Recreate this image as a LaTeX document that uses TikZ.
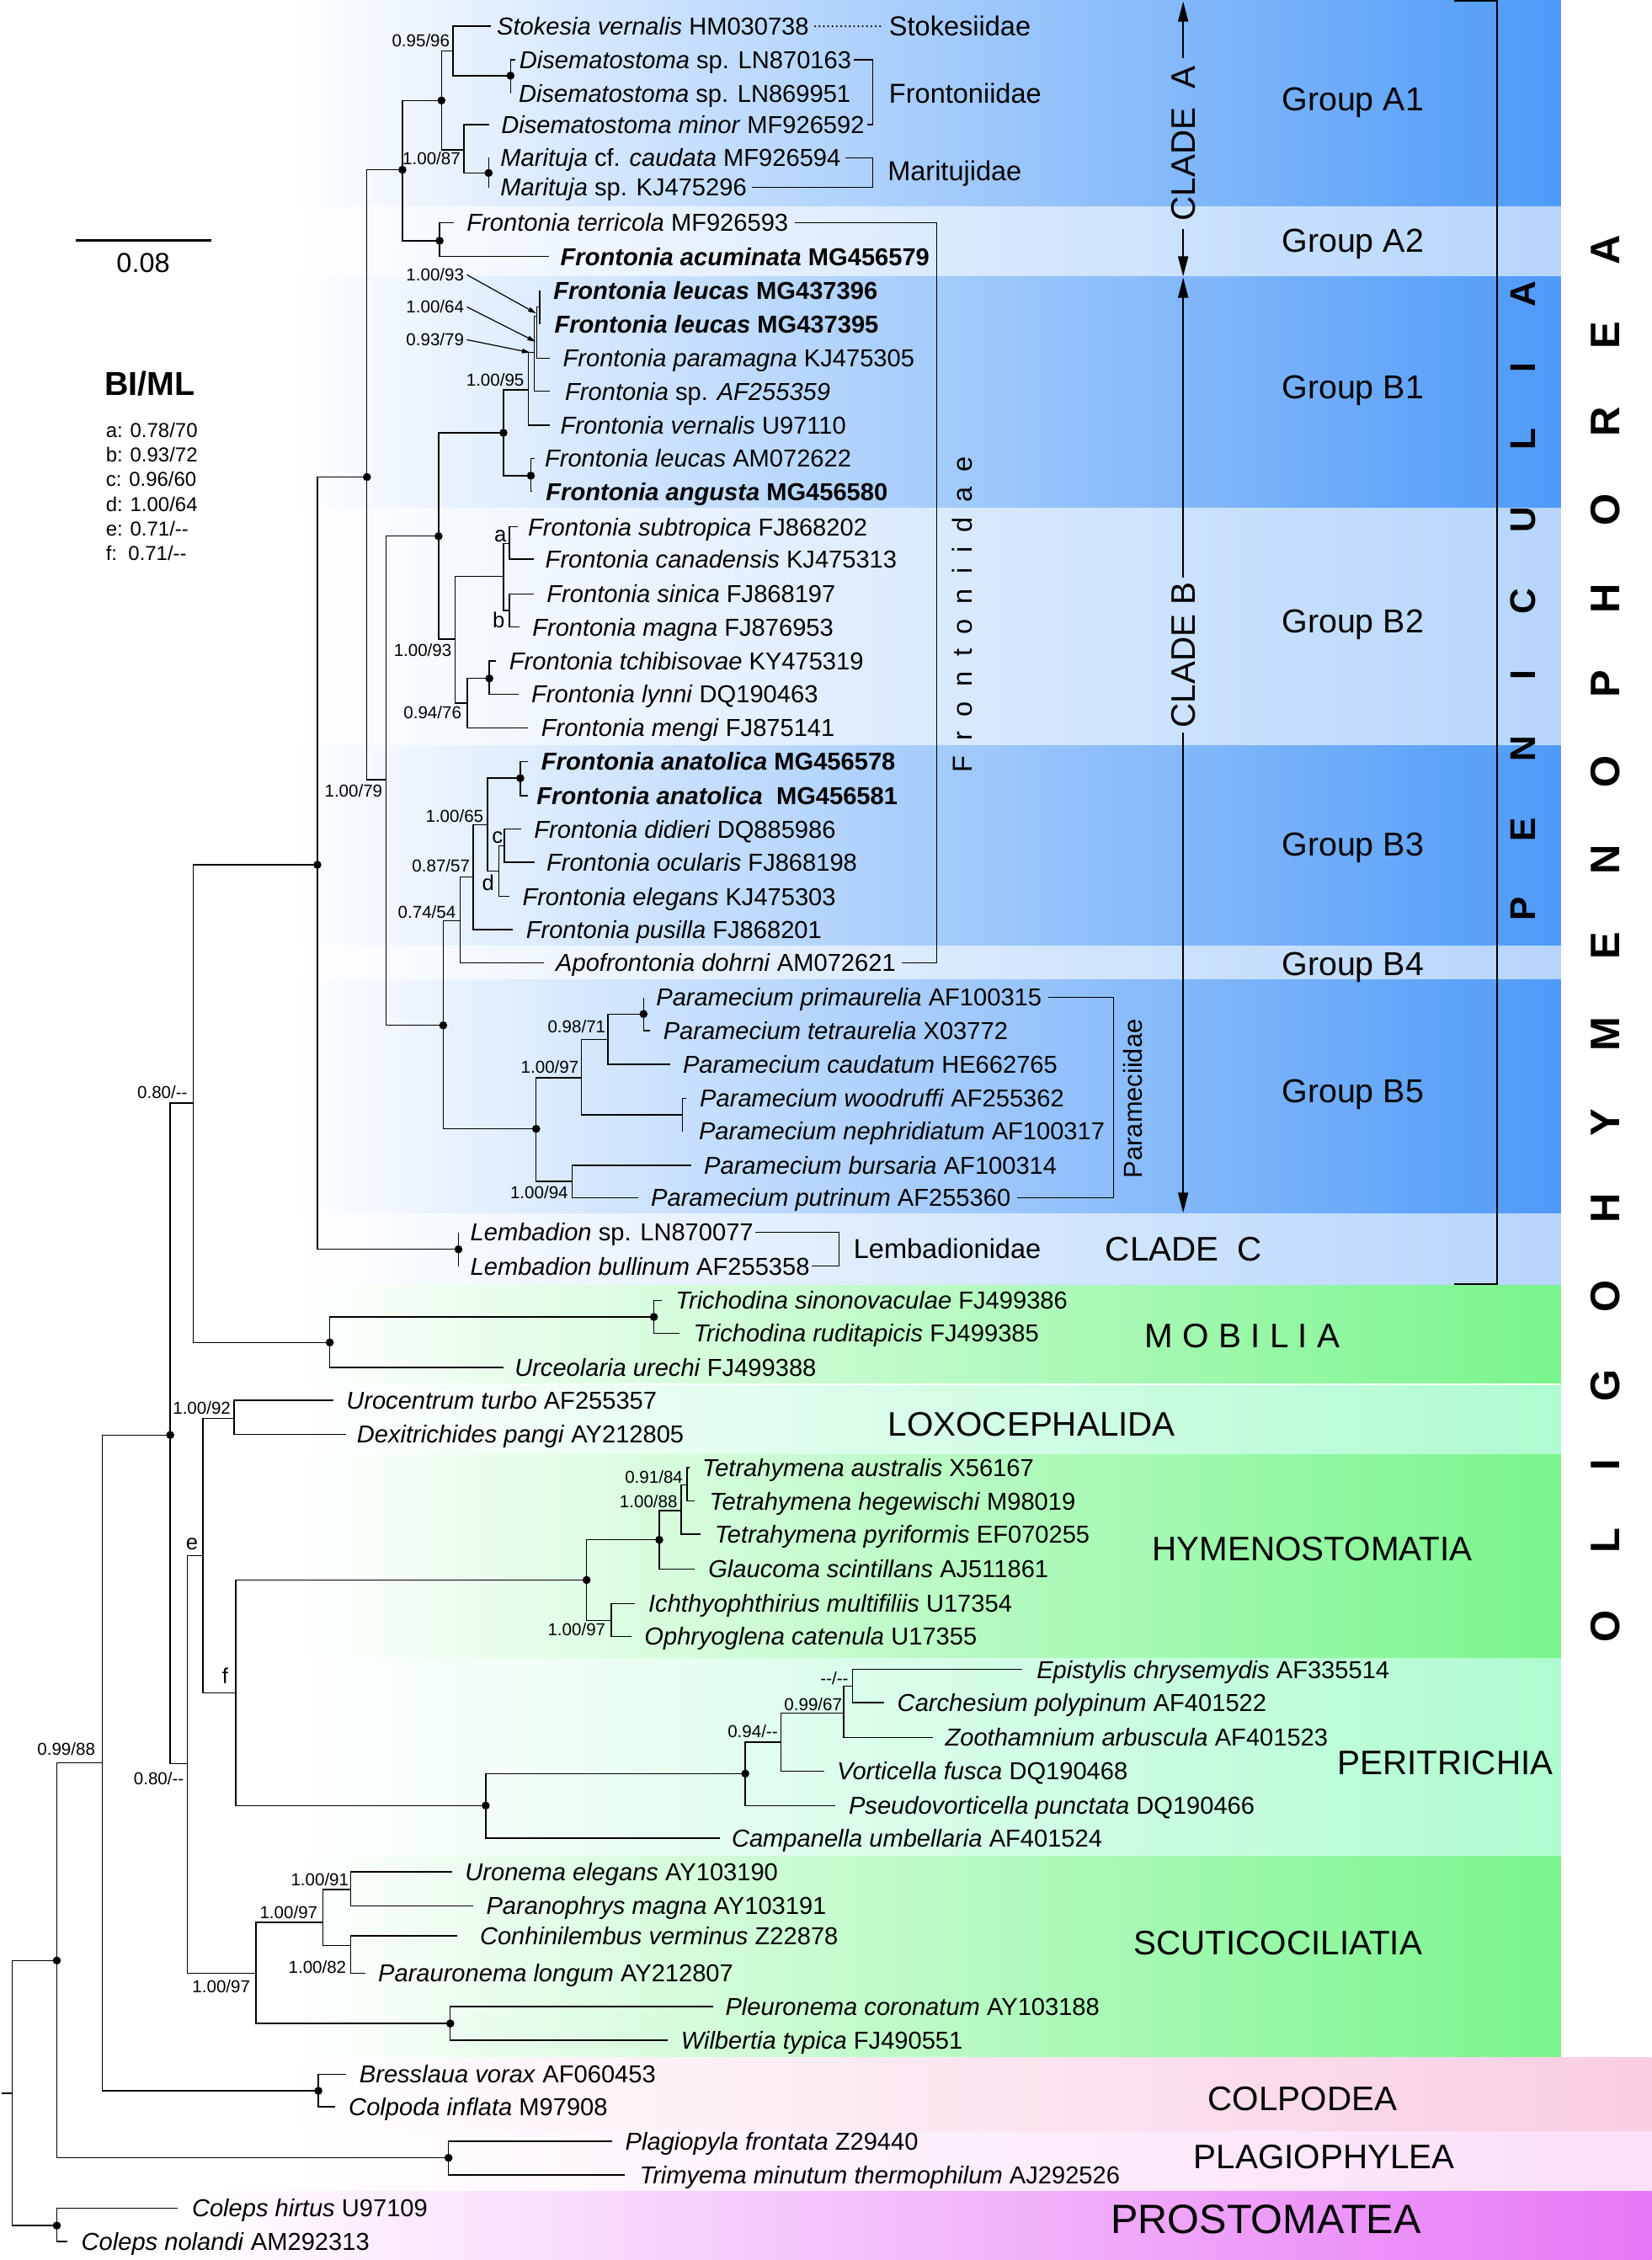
\documentclass[tikz,border=0pt]{standalone}
\usepackage{fontspec}
\setmainfont{Liberation Sans}
\usetikzlibrary{arrows.meta}
\definecolor{bD}{RGB}{78,154,248}
\definecolor{bL}{RGB}{182,213,251}
\definecolor{gD}{RGB}{120,245,140}
\definecolor{gL}{RGB}{175,251,208}
\definecolor{pC}{RGB}{249,205,226}
\definecolor{pP}{RGB}{251,222,247}
\definecolor{pM}{RGB}{231,120,246}
\newcommand\leaf[5]{\coordinate (l#1) at (#2,#3);\node[tx] (t#1) at (#4,#3+6.1) {#5};}
\newcommand\lsPen{\hspace{19.4pt}}
\newcommand\lsOli{\hspace{19.9pt}}
\newcommand\lsFro{\hspace{5.15pt}}
\newcommand\lsMob{\hspace{3.3pt}}
\begin{document}
\begin{tikzpicture}[x=0.5pt,y=-0.5pt,
 br/.style={line width=0.4pt},
 tx/.style={anchor=base west,inner sep=0pt,font=\fontsize{8.5}{10}\selectfont},
 bs/.style={anchor=base east,inner sep=0pt,font=\fontsize{6}{7}\selectfont},
 bl/.style={anchor=base east,inner sep=0pt,font=\fontsize{7.5}{9}\selectfont},
 grp/.style={anchor=base west,inner sep=0pt,font=\fontsize{11.5}{14}\selectfont},
 bigl/.style={anchor=base,inner sep=0pt,font=\fontsize{11.8}{14}\selectfont},
 fam/.style={anchor=base west,inner sep=0pt,font=\fontsize{9.5}{11}\selectfont},
 cladearr/.style={line width=0.5pt,-{Triangle[length=7pt,width=3.5pt]}},
 sarr/.style={line width=0.35pt,-{Triangle[length=2.8pt,width=1.6pt]}}]
\useasboundingbox (0,0) rectangle (1146,1568);
\fill[white] (0,0) rectangle (1146,1568);
% ---------- background bands
\shade[left color=white,right color=bD] (200,0) rectangle (1083,143.2);
\shade[left color=white,right color=bL] (200,143.2) rectangle (1083,191.8);
\shade[left color=white,right color=bD] (200,191.8) rectangle (1083,352.8);
\shade[left color=white,right color=bL] (200,352.8) rectangle (1083,517.1);
\shade[left color=white,right color=bD] (200,517.1) rectangle (1083,656.4);
\shade[left color=white,right color=bL] (200,656.4) rectangle (1083,679.7);
\shade[left color=white,right color=bD] (200,679.7) rectangle (1083,842);
\shade[left color=white,right color=bL] (200,842) rectangle (1083,891.6);
\shade[left color=white,right color=gD] (200,891.6) rectangle (1083,959.8);
\shade[left color=white,right color=gL] (200,961.3) rectangle (1083,1009.2);
\shade[left color=white,right color=gD] (200,1009.2) rectangle (1083,1150.7);
\shade[left color=white,right color=gL] (200,1150.7) rectangle (1083,1287.8);
\shade[left color=white,right color=gD] (200,1287.8) rectangle (1083,1427.3);
\shade[left color=white,right color=pC] (200,1427.3) rectangle (1146,1478.8);
\shade[left color=white,right color=pP] (200,1478.8) rectangle (1146,1520.2);
\shade[left color=white,right color=pM] (130,1520.2) rectangle (1146,1568);
% ---------- leaves
\leaf{1}{340.7}{18.2}{344.4}{\textit{Stokesia vernalis} HM030738}
\leaf{2}{357.5}{41.5}{360}{\textit{Disematostoma} sp. LN870163}
\leaf{3}{354.2}{64.6}{359.5}{\textit{Disematostoma} sp. LN869951}
\leaf{4}{339.5}{86.5}{347.4}{\textit{Disematostoma minor} MF926592}
\leaf{5}{339}{109.5}{346.9}{\textit{Marituja} cf. \textit{caudata} MF926594}
\leaf{6}{339}{130}{346.9}{\textit{Marituja} sp. KJ475296}
\leaf{7}{314.9}{154.5}{323.5}{\textit{Frontonia terricola} MF926593}
\leaf{8}{380.8}{178}{388.5}{\textbf{\textit{Frontonia acuminata} MG456579}}
\leaf{9}{374.4}{201.5}{383.6}{\textbf{\textit{Frontonia leucas} MG437396}}
\leaf{10}{374.4}{224.8}{384.3}{\textbf{\textit{Frontonia leucas} MG437395}}
\leaf{11}{381.3}{248.5}{390.2}{\textit{Frontonia paramagna} KJ475305}
\leaf{12}{381.3}{271.5}{391.7}{\textit{Frontonia} sp. \textit{AF255359}}
\leaf{13}{381.6}{295}{388.5}{\textit{Frontonia vernalis} U97110}
\leaf{14}{371}{318}{377.6}{\textit{Frontonia leucas} AM072622}
\leaf{15}{369}{341}{378.4}{\textbf{\textit{Frontonia angusta} MG456580}}
\leaf{16}{359.5}{365.5}{366}{\textit{Frontonia subtropica} FJ868202}
\leaf{17}{370.2}{388}{378}{\textit{Frontonia canadensis} KJ475313}
\leaf{18}{370.2}{412}{379}{\textit{Frontonia sinica} FJ868197}
\leaf{19}{360.4}{435}{369}{\textit{Frontonia magna} FJ876953}
\leaf{20}{343.9}{458.5}{353}{\textit{Frontonia tchibisovae} KY475319}
\leaf{21}{359.7}{481.5}{368.3}{\textit{Frontonia lynni} DQ190463}
\leaf{22}{366.5}{505}{375.2}{\textit{Frontonia mengi} FJ875141}
\leaf{23}{366.5}{528.4}{375.2}{\textbf{\textit{Frontonia anatolica} MG456578}}
\leaf{24}{366.5}{552}{372}{\textbf{\textit{Frontonia anatolica}\ \ MG456581}}
\leaf{25}{361.6}{575.2}{370.2}{\textit{Frontonia didieri} DQ885986}
\leaf{26}{371}{598.3}{378.8}{\textit{Frontonia ocularis} FJ868198}
\leaf{27}{353.5}{622}{362.1}{\textit{Frontonia elegans} KJ475303}
\leaf{28}{356}{645}{364.6}{\textit{Frontonia pusilla} FJ868201}
\leaf{29}{377.6}{668}{385.3}{\textit{Apofrontonia dohrni} AM072621}
\leaf{30}{446.5}{692}{454.9}{\textit{Paramecium primaurelia} AF100315}
\leaf{31}{451.2}{715}{459.8}{\textit{Paramecium tetraurelia} X03772}
\leaf{32}{464.8}{738.5}{473.4}{\textit{Paramecium caudatum} HE662765}
\leaf{33}{476}{762}{485.2}{\textit{Paramecium woodruffi} AF255362}
\leaf{34}{474}{784.8}{484.5}{\textit{Paramecium nephridiatum} AF100317}
\leaf{35}{479.5}{808.5}{488.1}{\textit{Paramecium bursaria} AF100314}
\leaf{36}{442.6}{831}{451.3}{\textit{Paramecium putrinum} AF255360}
\leaf{37}{318.1}{855}{326}{\textit{Lembadion} sp. LN870077}
\leaf{38}{318.1}{878.5}{326}{\textit{Lembadion bullinum} AF255358}
\leaf{39}{459.1}{902.3}{468.4}{\textit{Trichodina sinonovaculae} FJ499386}
\leaf{40}{471.4}{925.1}{480.7}{\textit{Trichodina ruditapicis} FJ499385}
\leaf{41}{349.3}{948.7}{356.7}{\textit{Urceolaria urechi} FJ499388}
\leaf{42}{231.2}{971.6}{239.9}{\textit{Urocentrum turbo} AF255357}
\leaf{43}{239.9}{995.2}{247.2}{\textit{Dexitrichides pangi} AY212805}
\leaf{44}{478.3}{1018.2}{486.9}{\textit{Tetrahymena australis} X56167}
\leaf{45}{481.9}{1041.5}{491.8}{\textit{Tetrahymena hegewischi} M98019}
\leaf{46}{486.2}{1064.5}{495.5}{\textit{Tetrahymena pyriformis} EF070255}
\leaf{47}{481.9}{1088.5}{491.1}{\textit{Glaucoma scintillans} AJ511861}
\leaf{48}{440.2}{1112.6}{449.5}{\textit{Ichthyophthirius multifiliis} U17354}
\leaf{49}{438.4}{1135.4}{446.8}{\textit{Ophryoglena catenula} U17355}
\leaf{50}{709.5}{1158.3}{718.9}{\textit{Epistylis chrysemydis} AF335514}
\leaf{51}{613.6}{1181.2}{622.2}{\textit{Carchesium polypinum} AF401522}
\leaf{52}{647.5}{1205.4}{655.4}{\textit{Zoothamnium arbuscula} AF401523}
\leaf{53}{571.8}{1228.8}{580.4}{\textit{Vorticella fusca} DQ190468}
\leaf{54}{579.7}{1252.7}{588.5}{\textit{Pseudovorticella punctata} DQ190466}
\leaf{55}{499.2}{1275.3}{507.3}{\textit{Campanella umbellaria} AF401524}
\leaf{56}{313.7}{1298.7}{322.3}{\textit{Uronema elegans} AY103190}
\leaf{57}{328.4}{1322.3}{337}{\textit{Paranophrys magna} AY103191}
\leaf{58}{317.3}{1343}{332.6}{\textit{Conhinilembus verminus} Z22878}
\leaf{59}{253.4}{1369}{262}{\textit{Parauronema longum} AY212807}
\leaf{60}{495}{1392.1}{502.9}{\textit{Pleuronema coronatum} AY103188}
\leaf{61}{463.1}{1415.5}{472.1}{\textit{Wilbertia typica} FJ490551}
\leaf{62}{239.9}{1439.1}{249}{\textit{Bresslaua vorax} AF060453}
\leaf{63}{232.5}{1461.7}{241.6}{\textit{Colpoda inflata} M97908}
\leaf{64}{424.9}{1485.6}{433.5}{\textit{Plagiopyla frontata} Z29440}
\leaf{65}{433.5}{1508.9}{443.4}{\textit{Trimyema minutum thermophilum} AJ292526}
\leaf{66}{123}{1531.9}{132.8}{\textit{Coleps hirtus} U97109}
\leaf{67}{46.7}{1555.2}{56.1}{\textit{Coleps nolandi} AM292313}
% ---------- internal nodes
\coordinate (rs) at (1.3,1452.3);
\coordinate (r0) at (8.6,1452.3);
\coordinate (nCol) at (39.4,1544.1);
\coordinate (nP) at (39.4,1360.2);
\coordinate (nPlag) at (311.2,1497.1);
\coordinate (nQ) at (70.8,1223);
\coordinate (nColp) at (220.9,1450.6);
\coordinate (nR) at (118.1,995.6);
\coordinate (nS) at (134.1,765.4);
\coordinate (nMob) at (228.8,931.4);
\coordinate (nTri) at (453.7,913.7);
\coordinate (nU) at (220.2,600);
\coordinate (nLem) at (318.1,866.8);
\coordinate (nV) at (254.6,331);
\coordinate (nA) at (279.2,117.8);
\coordinate (nA1) at (306.3,69.7);
\coordinate (nStD) at (314.4,35.3);
\coordinate (nDis) at (354.2,52.5);
\coordinate (nDM) at (321.8,103.9);
\coordinate (nMar) at (339,120);
\coordinate (nA2) at (305,167);
\coordinate (nB) at (267.7,541);
\coordinate (nB12) at (304.3,372);
\coordinate (nB1) at (349.3,300.3);
\coordinate (nB1b) at (368.3,330);
\coordinate (nB1a) at (366.5,270.4);
\coordinate (nR3) at (370.8,244.6);
\coordinate (nQ2) at (372.6,219.2);
\coordinate (nP2) at (374.4,213);
\coordinate (nB2) at (315.6,443.5);
\coordinate (nB2a) at (349.3,400);
\coordinate (na) at (353.5,377);
\coordinate (nb) at (353.5,423.5);
\coordinate (nB2b) at (324.2,487.9);
\coordinate (nTL) at (339.5,470.7);
\coordinate (nB345) at (307.5,711.4);
\coordinate (nB34) at (319.1,638.7);
\coordinate (nB3) at (328.4,608.3);
\coordinate (nB3a) at (338.2,572.4);
\coordinate (nAna) at (361,539.9);
\coordinate (nd) at (346.1,604.5);
\coordinate (nc) at (350,586.9);
\coordinate (nB5) at (372,783.2);
\coordinate (nPm1) at (403.3,747.7);
\coordinate (nPm3) at (421.7,721.3);
\coordinate (nPpt) at (446.5,703.5);
\coordinate (nPwn) at (473.4,773.4);
\coordinate (nPbp) at (397.1,819.6);
\coordinate (nT) at (129.9,1223.7);
\coordinate (nE) at (140.7,1079.2);
\coordinate (nUD) at (162.4,984.2);
\coordinate (nF) at (163.6,1174.7);
\coordinate (nHy) at (407,1096.2);
\coordinate (nIO) at (424.2,1124.1);
\coordinate (nTet) at (457.4,1068.3);
\coordinate (nT88) at (472.6,1048);
\coordinate (nT84) at (476.6,1030.3);
\coordinate (nPer) at (337,1252.7);
\coordinate (nPa) at (517.1,1230.5);
\coordinate (nPb) at (541.7,1208.6);
\coordinate (nPc) at (585.3,1188.5);
\coordinate (nPd) at (591.5,1169.8);
\coordinate (nSc) at (177.6,1369);
\coordinate (nSa) at (223.9,1333.8);
\coordinate (nU91) at (243.5,1310.9);
\coordinate (nU82) at (243.5,1349.9);
\coordinate (nPW) at (312.4,1403.9);
% ---------- branches
\draw[br] (rs) -- (r0);
\foreach \p/\c in {r0/nP,r0/nCol,nCol/l66,nCol/l67,nP/nQ,nP/nPlag,nPlag/l64,nPlag/l65,
 nQ/nR,nQ/nColp,nColp/l62,nColp/l63,nR/nS,nR/nT,nS/nU,nS/nMob,nMob/nTri,nMob/l41,
 nTri/l39,nTri/l40,nU/nV,nU/nLem,nLem/l37,nLem/l38,nV/nA,nV/nB,nA/nA1,nA/nA2,
 nA1/nStD,nA1/nDM,nStD/l1,nStD/nDis,nDis/l2,nDis/l3,nDM/l4,nDM/nMar,nMar/l5,nMar/l6,
 nA2/l7,nA2/l8,nB/nB12,nB/nB345,nB12/nB1,nB12/nB2,nB1/nB1a,nB1/nB1b,nB1b/l14,nB1b/l15,
 nB1a/nR3,nB1a/l13,nR3/nQ2,nR3/l12,nQ2/nP2,nQ2/l11,nP2/l9,nP2/l10,
 nB2/nB2a,nB2/nB2b,nB2a/na,nB2a/nb,na/l16,na/l17,nb/l18,nb/l19,nB2b/nTL,nB2b/l22,
 nTL/l20,nTL/l21,nB345/nB34,nB345/nB5,nB34/nB3,nB34/l29,nB3/nB3a,nB3/l28,
 nB3a/nAna,nB3a/nd,nAna/l23,nAna/l24,nd/nc,nd/l27,nc/l25,nc/l26,
 nB5/nPm1,nB5/nPbp,nPm1/nPm3,nPm1/nPwn,nPm3/nPpt,nPm3/l32,nPpt/l30,nPpt/l31,
 nPwn/l33,nPwn/l34,nPbp/l35,nPbp/l36,nT/nE,nT/nSc,nE/nUD,nE/nF,nUD/l42,nUD/l43,
 nF/nHy,nF/nPer,nHy/nTet,nHy/nIO,nIO/l48,nIO/l49,nTet/nT88,nTet/l47,nT88/nT84,nT88/l46,
 nT84/l44,nT84/l45,nPer/nPa,nPer/l55,nPa/nPb,nPa/l54,nPb/nPc,nPb/l53,nPc/nPd,nPc/l52,
 nPd/l50,nPd/l51,nSc/nSa,nSc/nPW,nSa/nU91,nSa/nU82,nU91/l56,nU91/l57,nU82/l58,nU82/l59,
 nPW/l60,nPW/l61}
 {\draw[br] (\p) |- (\c);}
\foreach \n in {nA1,nDis,nA,nMar,nA2,nV,nB1,nB1b,nB12,nTL,nAna,nB345,nPpt,nB5,nU,nLem,
 nMob,nTri,nR,nHy,nTet,nPa,nPer,nPW,nColp,nP,nPlag,nCol}
 {\fill (\n) circle (1.4pt);}
% ---------- support values
\node[bs] (s1) at (312.4,32.7) {0.95/96};
\node[bs] (s2) at (319.8,114) {1.00/87};
\node[bs] (s3) at (322.3,194.9) {1.00/93};
\node[bs] (s4) at (322.3,217.2) {1.00/64};
\node[bs] (s5) at (322.3,240) {0.93/79};
\node[bs] (s6) at (364,267.9) {1.00/95};
\node[bl] (s7) at (351.8,375.8) {a};
\node[bl] (s8) at (350.6,435.4) {b};
\node[bs] (s9) at (313.7,455.4) {1.00/93};
\node[bs] (s10) at (320.5,498.5) {0.94/76};
\node[bs] (s11) at (265.7,553) {1.00/79};
\node[bs] (s12) at (335.8,570.3) {1.00/65};
\node[bl] (s13) at (349.3,584.9) {c};
\node[bs] (s14) at (326.4,605.2) {0.87/57};
\node[bl] (s15) at (343.2,617.8) {d};
\node[bs] (s16) at (316.6,636.8) {0.74/54};
\node[bs] (s17) at (420.5,716.3) {0.98/71};
\node[bs] (s18) at (401.9,744.5) {1.00/97};
\node[bs] (s19) at (394.5,831.8) {1.00/94};
\node[bs] (s20) at (130.4,762.1) {0.80/-{}-};
\node[bs] (s21) at (160.4,981.3) {1.00/92};
\node[bl] (s22) at (137.8,1075.3) {e};
\node[bl] (s23) at (158.7,1167.9) {f};
\node[bs] (s24) at (474.1,1028.9) {0.91/84};
\node[bs] (s25) at (470.4,1046) {1.00/88};
\node[bs] (s26) at (420.5,1134.7) {1.00/97};
\node[bs] (s27) at (589,1168.9) {-{}-/-{}-};
\node[bs] (s28) at (584.6,1186.6) {0.99/67};
\node[bs] (s29) at (540,1205.4) {0.94/-{}-};
\node[bs] (s30) at (127.9,1238.1) {0.80/-{}-};
\node[bs] (s31) at (66.4,1218) {0.99/88};
\node[bs] (s32) at (242.3,1308.4) {1.00/91};
\node[bs] (s33) at (220.7,1331.1) {1.00/97};
\node[bs] (s34) at (240.6,1369.3) {1.00/82};
\node[bs] (s35) at (173.9,1382.5) {1.00/97};
\coordinate (tp1) at (372,217.4);
\coordinate (tp2) at (371.5,237);
\coordinate (tp3) at (367.8,244.6);
\draw[sarr] ([xshift=0.8pt]s3.east) -- (tp1);
\draw[sarr] ([xshift=0.8pt]s4.east) -- (tp2);
\draw[sarr] ([xshift=0.8pt]s5.east) -- (tp3);
% ---------- scale bar and legend
\coordinate (sb1) at (52.4,166.8);
\coordinate (sb2) at (146.4,166.8);
\draw[line width=0.9pt] (sb1) -- (sb2);
\node[anchor=base,inner sep=0pt,font=\fontsize{9.5}{11}\selectfont] (sbl) at (99.4,188.8) {0.08};
\node[anchor=base,inner sep=0pt,font=\fontsize{11.5}{13}\selectfont\bfseries] (biml) at (104,274.3) {BI/ML};
\node[anchor=base west,inner sep=0pt,font=\fontsize{7}{8}\selectfont] (lga) at (73.1,303.5) {a: 0.78/70};
\node[anchor=base west,inner sep=0pt,font=\fontsize{7}{8}\selectfont] (lgb) at (73.1,320.5) {b: 0.93/72};
\node[anchor=base west,inner sep=0pt,font=\fontsize{7}{8}\selectfont] (lgc) at (73.1,337.5) {c: 0.96/60};
\node[anchor=base west,inner sep=0pt,font=\fontsize{7}{8}\selectfont] (lgd) at (73.1,354.7) {d: 1.00/64};
\node[anchor=base west,inner sep=0pt,font=\fontsize{7}{8}\selectfont] (lge) at (73.1,372) {e: 0.71/-{}-};
\node[anchor=base west,inner sep=0pt,font=\fontsize{7}{8}\selectfont] (lgf) at (73.1,388.9) {f:\ \ 0.71/-{}-};
% ---------- family labels and brackets
\node[fam] (fSt) at (616.5,25) {Stokesiidae};
\draw[line width=0.7pt,line cap=round,dash pattern=on 0pt off 1.5pt] ([shift={(2pt,3.05pt)}]t1.base east) -- ([shift={(-1.5pt,3.4pt)}]fSt.base west);
\node[fam] (fFr) at (616.5,71.4) {Frontoniidae};
\draw[br] ([shift={(0.7pt,3.05pt)}]t2.base east) -| (605.7,86.5) -- ([shift={(0.7pt,3.05pt)}]t4.base east);
\node[fam] (fMa) at (615.5,125.4) {Maritujidae};
\draw[br] ([shift={(1.5pt,3.05pt)}]t5.base east) -| (605.7,130) -- ([shift={(1.5pt,3.05pt)}]t6.base east);
\draw[br] ([shift={(2pt,3.05pt)}]t7.base east) -| (650,668) -- ([shift={(2pt,3.05pt)}]t29.base east);
\node[rotate=90,inner sep=0pt,font=\fontsize{9.5}{11}\selectfont] (fFv) at (667.7,426.4) {F\lsFro r\lsFro o\lsFro n\lsFro t\lsFro o\lsFro n\lsFro i\lsFro i\lsFro d\lsFro a\lsFro e};
\draw[br] ([shift={(2pt,3.05pt)}]t30.base east) -| (772.6,831) -- ([shift={(2pt,3.05pt)}]t36.base east);
\node[rotate=90,inner sep=0pt,font=\fontsize{9}{11}\selectfont] (fPa) at (786,762.3) {Parameciidae};
\node[fam] (fLe) at (591.9,873.1) {Lembadionidae};
\draw[br] ([shift={(0.5pt,3.05pt)}]t37.base east) -| (582.1,878.5) -- ([shift={(0.5pt,3.05pt)}]t38.base east);
% ---------- clades and groups
\node[rotate=90,inner sep=2.5pt,font=\fontsize{11.8}{14}\selectfont] (cA) at (820.9,99.5) {CLADE\ \ A};
\coordinate (aT) at (820.9,1);
\coordinate (aB) at (820.9,191.8);
\draw[cladearr] (cA.east) -- (aT);
\draw[cladearr] (cA.west) -- (aB);
\node[rotate=90,inner sep=1.5pt,font=\fontsize{11.8}{14}\selectfont] (cB) at (820.9,454.4) {CLADE B};
\coordinate (bT) at (820.9,192.6);
\coordinate (bB) at (820.9,841.4);
\draw[cladearr] (cB.east) -- (bT);
\draw[cladearr] (cB.west) -- (bB);
\node[bigl] (cC) at (821.4,874.8) {CLADE\ \ C};
\node[grp] (gA1) at (889,76.7) {Group A1};
\node[grp] (gA2) at (889,175.1) {Group A2};
\node[grp] (gB1) at (889,276.9) {Group B1};
\node[grp] (gB2) at (889,439.2) {Group B2};
\node[grp] (gB3) at (889,593.8) {Group B3};
\node[grp] (gB4) at (889,676.9) {Group B4};
\node[grp] (gB5) at (889,764.9) {Group B5};
\node[bigl] (kMo) at (862,934.9) {M\lsMob O\lsMob B\lsMob I\lsMob L\lsMob I\lsMob A};
\node[bigl] (kLo) at (715.8,996.5) {LOXOCEPHALIDA};
\node[bigl] (kHy) at (910.5,1082.6) {HYMENOSTOMATIA};
\node[bigl] (kPe) at (1002.8,1231) {PERITRICHIA};
\node[bigl] (kSc) at (886.7,1356) {SCUTICOCILIATIA};
\node[bigl] (kCo) at (903.7,1464.2) {COLPODEA};
\node[bigl] (kPl) at (918.8,1504.4) {PLAGIOPHYLEA};
\node[anchor=base,inner sep=0pt,font=\fontsize{14.2}{16}\selectfont] (kPr) at (878.3,1549.3) {PROSTOMATEA};
% ---------- Peniculia / Oligohymenophorea
\draw[line width=0.6pt] (1009.1,0.8) -- (1038.7,0.8) -- (1038.7,890.9) -- (1009.1,890.9);
\node[rotate=90,inner sep=0pt,font=\fontsize{12.4}{14}\selectfont\bfseries] (kPen) at (1056.5,417) {P\lsPen E\lsPen N\lsPen I\lsPen C\lsPen U\lsPen L\lsPen I\lsPen A};
\node[rotate=90,inner sep=0pt,font=\fontsize{14.3}{16}\selectfont\bfseries] (kOli) at (1113.6,651.3) {O\lsOli L\lsOli I\lsOli G\lsOli O\lsOli H\lsOli Y\lsOli M\lsOli E\lsOli N\lsOli O\lsOli P\lsOli H\lsOli O\lsOli R\lsOli E\lsOli A};
\end{tikzpicture}
\end{document}
